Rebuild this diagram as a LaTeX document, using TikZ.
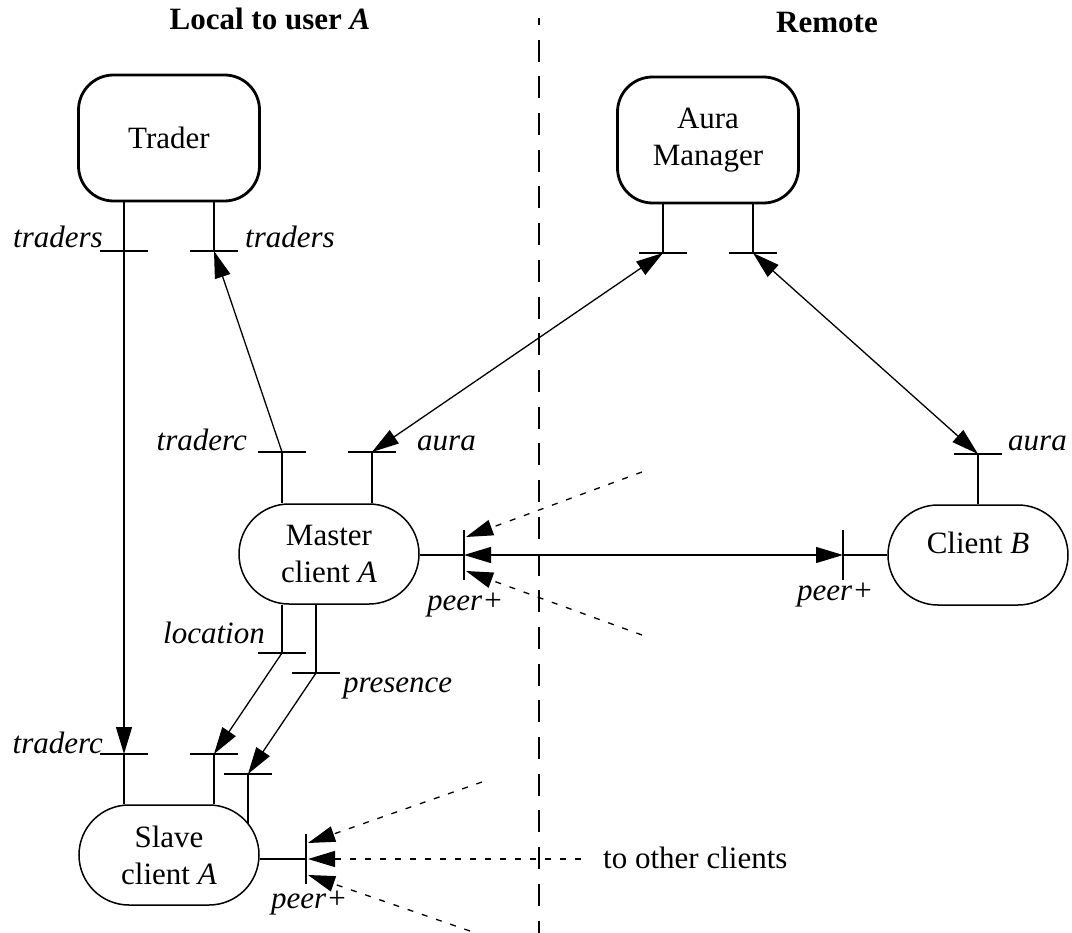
\documentclass[tikz,border=0pt]{standalone}
\usepackage{fontspec}
\setmainfont{Liberation Serif}
\usetikzlibrary{arrows.meta,calc}
\begin{document}
\begin{tikzpicture}[x=1pt,y=-1pt,
  every node/.style={font=\fontsize{31}{37}\selectfont, inner sep=0pt},
  bigbox/.style={draw, line width=2.8pt, rounded corners=35pt, minimum width=181pt, minimum height=126pt, align=center},
  pillbox/.style={draw, line width=1.5pt, rounded corners=50pt, minimum width=180pt, minimum height=100pt, align=center},
  port/.style={line width=2.8pt},
  conn/.style={line width=1.3pt},
  >={Triangle[length=27pt,width=16pt]},
  dotconn/.style={line width=1.3pt, dash pattern=on 6pt off 9pt},
  lbl/.style={font=\fontsize{31}{37}\selectfont\itshape},
  titletext/.style={font=\fontsize{31}{37}\selectfont\bfseries},
  divider/.style={line width=1.6pt, dash pattern=on 22pt off 14.7pt, dash phase=15pt}
]
\useasboundingbox (0,0) rectangle (1072,933);

% titles
\node[titletext, anchor=base] (localtitle) at (270,30) {Local to user \textit{A}};
\node[titletext, anchor=base] (remotetitle) at (827,33) {Remote};

% divider
\coordinate (divtop) at (539,18);
\coordinate (divbot) at (539,933);
\draw[divider] (divtop) -- (divbot);

% components
\node[bigbox] (trader) at (169,138) {Trader};
\node[bigbox] (aura) at (708,140) {Aura\\Manager};
\node[pillbox] (master) at (329,554) {Master\\client \textit{A}};
\node[pillbox] (slave) at (169,855) {Slave\\client \textit{A}};
\node[pillbox] (clientB) at (978,555) {\raisebox{12pt}[\height][\depth]{Client \textit{B}}};

% ports
\coordinate (trL) at (124,251);
\coordinate (trR) at (214,251);
\coordinate (amL) at (663,253);
\coordinate (amR) at (753,253);
\coordinate (mcT) at (282,452);
\coordinate (mcA) at (372,452);
\coordinate (mcL) at (282,653);
\coordinate (mcP) at (316,673);
\coordinate (mcPeer) at (464,555);
\coordinate (scT) at (124,754);
\coordinate (scL) at (214,754);
\coordinate (scP) at (248,774);
\coordinate (scPend) at (248,824);
\coordinate (scPeer) at (306,859);
\coordinate (cbA) at (978,454);
\coordinate (cbPeer) at (843,555);

% port stems
\draw[port] (trader.south -| trL) -- (trL);
\draw[port] (trader.south -| trR) -- (trR);
\draw[port] (aura.south -| amL) -- (amL);
\draw[port] (aura.south -| amR) -- (amR);
\draw[port] (master.north -| mcT) -- (mcT);
\draw[port] (master.north -| mcA) -- (mcA);
\draw[port] (master.south -| mcL) -- (mcL);
\draw[port] (master.south -| mcP) -- (mcP);
\draw[port] (slave.north -| scT) -- (scT);
\draw[port] (slave.north -| scL) -- (scL);
\draw[port] (scPend) -- (scP);
\draw[port] (clientB.north -| cbA) -- (cbA);
\draw[port] (master.east |- mcPeer) -- (mcPeer);
\draw[port] (slave.east |- scPeer) -- (scPeer);
\draw[port] (clientB.west |- cbPeer) -- (cbPeer);

% port bars
\foreach \p in {trL,trR,amL,amR,mcT,mcA,mcL,mcP,scT,scL,scP,cbA}
  \draw[port] ($(\p)+(-24,0)$) -- ($(\p)+(24,0)$);
\foreach \p in {mcPeer,scPeer,cbPeer}
  \draw[port] ($(\p)+(0,-25)$) -- ($(\p)+(0,25)$);

% connectors
\draw[conn,->] (trL) -- (scT);
\draw[conn,->] (mcT) -- (trR);
\draw[conn,<->] (mcA) -- (amL);
\draw[conn,<->] (amR) -- (cbA);
\draw[conn,<->] (mcPeer) -- (cbPeer);
\draw[conn,->] (mcL) -- (scL);
\draw[conn,->] (mcP) -- (scP);

% dotted connectors
\coordinate (mdU) at (642,472);
\coordinate (mdL) at (642,635);
\draw[dotconn,->] (mdU) -- ($(mcPeer)+(2,-18)$);
\draw[dotconn,->] (mdL) -- ($(mcPeer)+(2,16)$);
\coordinate (sdU) at (482,782);
\coordinate (sdM) at (581,859);
\coordinate (sdL) at (470,931);
\draw[dotconn,->] (sdU) -- ($(scPeer)+(2,-16)$);
\draw[dotconn,->] (sdM) -- ($(scPeer)+(2,0)$);
\draw[dotconn,->] (sdL) -- ($(scPeer)+(2,16)$);
\node[anchor=west] (others) at (603,858) {to other clients};

% labels
\node[lbl,anchor=base east] (lbTrL) at (103,248) {traders};
\node[lbl,anchor=base west] (lbTrR) at (245,248) {traders};
\node[lbl,anchor=base east] (lbMcT) at (247,450) {traderc};
\node[lbl,anchor=base west] (lbMcA) at (417,450) {aura};
\node[lbl,anchor=base east] (lbMcL) at (265,643) {location};
\node[lbl,anchor=base west] (lbMcP) at (343,692) {presence};
\node[lbl,anchor=base east] (lbScT) at (103,753) {traderc};
\node[lbl,anchor=base west] (lbMcPeer) at (427,610) {peer+};
\node[lbl,anchor=base west] (lbCbPeer) at (797,600) {peer+};
\node[lbl,anchor=base west] (lbScPeer) at (271,908) {peer+};
\node[lbl,anchor=base west] (lbCbA) at (1008,450) {aura};
\end{tikzpicture}
\end{document}
